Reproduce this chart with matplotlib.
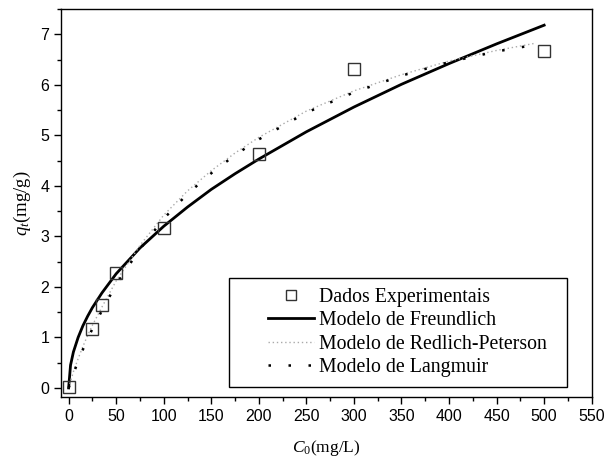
import matplotlib
matplotlib.use("Agg")
import matplotlib.pyplot as plt
from matplotlib.ticker import MultipleLocator
from matplotlib.legend_handler import HandlerLine2D

plt.rcParams['mathtext.fontset'] = 'custom'
plt.rcParams['mathtext.rm'] = 'Liberation Serif'
plt.rcParams['mathtext.it'] = 'Liberation Serif:italic'

# experimental points
c_exp = [0, 25, 35, 50, 100, 200, 300, 500]
q_exp = [0.02, 1.17, 1.65, 2.28, 3.17, 4.63, 6.32, 6.67]

# Freundlich model
c_fr = [0, 2, 5, 10, 15, 20, 25, 35, 50, 75, 100, 125, 150, 175, 200, 250, 300, 350, 400, 450, 500]
q_fr = [0, 0.45, 0.71, 1.00, 1.23, 1.42, 1.59, 1.88, 2.26, 2.77, 3.20, 3.58, 3.93, 4.24, 4.53,
        5.07, 5.56, 6.01, 6.42, 6.81, 7.18]

# Langmuir and Redlich-Peterson (nearly on top of each other)
c_lr = [0, 5, 10, 15, 20, 25, 35, 50, 75, 100, 125, 150, 175, 200, 250, 300, 350, 400, 450, 490]
q_lang = [0, 0.28, 0.53, 0.76, 0.97, 1.17, 1.53, 2.05, 2.75, 3.35, 3.84, 4.25, 4.61, 4.92,
          5.45, 5.85, 6.18, 6.45, 6.66, 6.79]
q_rp = [0, 0.32, 0.58, 0.82, 1.04, 1.24, 1.60, 2.12, 2.82, 3.42, 3.90, 4.30, 4.65, 4.96,
        5.48, 5.88, 6.20, 6.47, 6.68, 6.82]

fig = plt.figure(figsize=(6.06, 4.65), dpi=100)
ax = fig.add_axes([0.1007, 0.1462, 0.8757, 0.8344])

ax.plot(c_exp, q_exp, 's', ms=8.5, mfc='none', mec='#333333', mew=1.0,
        label='Dados Experimentais', zorder=5)
ax.plot(c_fr, q_fr, '-', color='black', lw=2.0, label='Modelo de Freundlich')
ax.plot(c_lr, q_rp, color='#aaaaaa', lw=1.0, linestyle=(0, (1, 2)),
        label='Modelo de Redlich-Peterson')
ax.plot(c_lr, q_lang, color='black', lw=1.8, linestyle=(0, (1, 7)),
        label='Modelo de Langmuir')

ax.set_xlim(-8, 550)
ax.set_ylim(-0.18, 7.5)
ax.xaxis.set_major_locator(MultipleLocator(50))
ax.xaxis.set_minor_locator(MultipleLocator(25))
ax.yaxis.set_major_locator(MultipleLocator(1))
ax.yaxis.set_minor_locator(MultipleLocator(0.5))
ax.tick_params(which='both', direction='out', top=False, right=False, labelsize=11.5,
               width=1.0)
ax.tick_params(which='major', length=5)
ax.tick_params(which='minor', length=3)
for lab in ax.get_xticklabels() + ax.get_yticklabels():
    lab.set_fontfamily('Liberation Sans')
for s in ax.spines.values():
    s.set_linewidth(1.0)

ax.set_xlabel(r'$C_\mathit{0}$(mg/L)', family='Liberation Serif', fontsize=12.5, labelpad=10)
ax.set_ylabel(r'$q_\mathit{t}$(mg/g)', family='Liberation Serif', fontsize=13.5, labelpad=5)

# legend handles sit a bit in from the box edge, like the original
hmap = {h: HandlerLine2D(xpad=1.45) for h in ax.get_lines()}
leg = ax.legend(loc='lower left', bbox_to_anchor=(0.3166, 0.0258, 0.637, 0.3),
                mode='expand', borderaxespad=0, handler_map=hmap,
                fancybox=False, edgecolor='black', framealpha=1,
                prop={'family': 'Liberation Serif', 'size': 14.3}, handlelength=3.8,
                handletextpad=0.25, labelspacing=0.22, borderpad=0.5, markerscale=0.85)
leg.get_frame().set_linewidth(1.0)

fig.savefig('out.png', dpi=100)
